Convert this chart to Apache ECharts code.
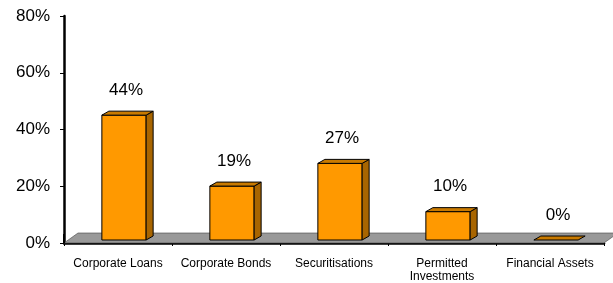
<!DOCTYPE html>
<html>
<head>
<meta charset="utf-8">
<script src="https://cdn.jsdelivr.net/npm/echarts@6/dist/echarts.min.js"></script>
<style>
  html, body { margin: 0; padding: 0; background: #fff; }
  #chart { width: 613px; height: 283px; }
</style>
</head>
<body>
<div id="chart"></div>
<script>
// 数据
var categories = ['Corporate Loans', 'Corporate Bonds', 'Securitisations', 'Permitted\nInvestments', 'Financial Assets'];
var values = [44, 19, 27, 10, 0];
var yTicks = [0, 20, 40, 60, 80];

var myChart = echarts.init(document.getElementById('chart'));

// 3D offsets (px)
var FRONT = [6, -3];   // bar front plane vs axis front
var DEPTH = [7, -4];   // bar depth
var FLOOR = [14, -10]; // floor depth

function floorItem(params, api) {
    var cs = params.coordSys;
    var x0 = cs.x, x1 = cs.x + cs.width, y = cs.y + cs.height;
    return {
        type: 'group',
        children: [{
            type: 'polygon',
            shape: { points: [[x0, y], [x1, y], [x1 + FLOOR[0], y + FLOOR[1]], [x0 + FLOOR[0], y + FLOOR[1]]] },
            style: { fill: '#999999', stroke: '#444', lineWidth: 0.6 }
        }, {
            type: 'line',
            shape: { x1: x0, y1: y + FLOOR[1] + 1, x2: x0, y2: y },
            style: { stroke: '#000', lineWidth: 2 }
        }]
    };
}

function barItem(params, api) {
    var idx = api.value(0);
    var val = api.value(1);
    var top = api.coord([idx, val]);
    var base = api.coord([idx, 0]);
    var band = api.size([1, 0])[0];
    var w = band * 0.41;
    var l = top[0] - w / 2 + FRONT[0];
    var r = l + w;
    var yt = top[1] + FRONT[1];
    var yb = base[1] + FRONT[1];
    var dx = DEPTH[0], dy = DEPTH[1];
    var line = { stroke: '#000', lineWidth: 1 };
    var children = [];
    if (yb - yt > 0.5) {
        children.push({
            type: 'rect',
            shape: { x: l, y: yt, width: w, height: yb - yt },
            style: Object.assign({ fill: '#FF9900' }, line)
        });
        children.push({
            type: 'polygon',
            shape: { points: [[r, yt], [r + dx, yt + dy], [r + dx, yb + dy], [r, yb]] },
            style: Object.assign({ fill: '#A86500' }, line)
        });
    }
    children.push({
        type: 'polygon',
        shape: { points: [[l, yt], [r, yt], [r + dx, yt + dy], [l + dx, yt + dy]] },
        style: Object.assign({ fill: '#C97A00' }, line)
    });
    children.push({
        type: 'text',
        style: {
            text: val + '%',
            x: top[0] + FRONT[0] + 2,
            y: yt - 25,
            align: 'center',
            verticalAlign: 'middle',
            font: '17px "Liberation Sans", Arial, sans-serif',
            fill: '#000'
        }
    });
    return { type: 'group', children: children };
}

var option = {
    animation: false,
    grid: { left: 64, right: 9, top: 16, bottom: 40 },
    xAxis: {
        type: 'category',
        data: categories,
        axisLine: { lineStyle: { color: '#000', width: 2.5 } },
        axisTick: { show: true, length: 3, lineStyle: { color: '#000', width: 1 } },
        axisLabel: {
            interval: 0,
            margin: 14,
            color: '#000',
            fontSize: 12,
            lineHeight: 13,
            fontFamily: '"Liberation Sans", Arial, sans-serif'
        }
    },
    yAxis: {
        type: 'value',
        min: 0,
        max: 80,
        interval: 20,
        axisLine: { show: true, lineStyle: { color: '#000', width: 2.5 } },
        axisTick: { show: true, length: 4, lineStyle: { color: '#000' } },
        splitLine: { show: false },
        axisLabel: {
            margin: 14,
            color: '#000',
            fontSize: 17,
            fontFamily: '"Liberation Sans", Arial, sans-serif',
            formatter: function (v) { return yTicks.indexOf(v) >= 0 ? v + '%' : ''; }
        }
    },
    series: [{
        type: 'custom',
        renderItem: floorItem,
        data: [[0, 0]],
        silent: true,
        z: 1
    }, {
        type: 'custom',
        renderItem: barItem,
        data: values.map(function (v, i) { return [i, v]; }),
        encode: { x: 0, y: 1 },
        z: 3
    }]
};

myChart.setOption(option);
</script>
</body>
</html>
